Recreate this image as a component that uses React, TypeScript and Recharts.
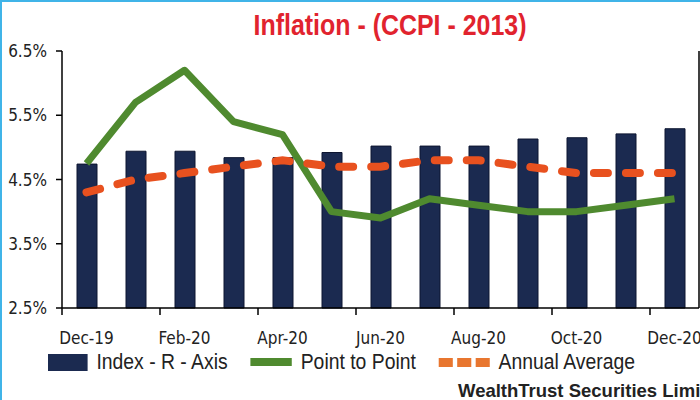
import React from 'react';
import { ComposedChart, Bar, Line, XAxis, YAxis, Legend } from 'recharts';

// values
const months = ['Dec-19', 'Jan-20', 'Feb-20', 'Mar-20', 'Apr-20', 'May-20', 'Jun-20', 'Jul-20', 'Aug-20', 'Sep-20', 'Oct-20', 'Nov-20', 'Dec-20'];
const indexValues = [132.4, 134.4, 134.4, 133.4, 133.4, 134.2, 135.2, 135.2, 135.2, 136.3, 136.5, 137.1, 137.9];
const pointToPoint = [4.75, 5.7, 6.2, 5.4, 5.2, 4.0, 3.9, 4.2, 4.1, 4.0, 4.0, 4.1, 4.2];
const annualAverage = [4.3, 4.5, 4.6, 4.7, 4.8, 4.7, 4.7, 4.8, 4.8, 4.7, 4.6, 4.6, 4.6];
const leftTicks = [2.5, 3.5, 4.5, 5.5, 6.5];
const legendOrder = ['index', 'p2p', 'avg'];

const data = months.map((m, i) => ({
  month: m,
  index: indexValues[i],
  p2p: pointToPoint[i],
  avg: annualAverage[i],
}));

const W = 700;
const H = 400;
const LEFT_AXIS_W = 62;
const RIGHT_AXIS_W = 1;
const band = (W - LEFT_AXIS_W - RIGHT_AXIS_W) / months.length;

const NAVY = '#1b2a50';
const GREEN = '#4f8a2f';
const ORANGE = '#e8511f';
const tickFont = '"DejaVu Sans Condensed", "DejaVu Sans", sans-serif';
const sansFont = '"Liberation Sans", Arial, sans-serif';
const LEGEND_SCALE = 0.88;

const MonthTick = (props: any) => {
  const { x, y, payload } = props;
  const left = x - band / 2;
  return (
    <g>
      <line x1={left} x2={left} y1={y} y2={y + 7} stroke="#000" strokeWidth={1.5} />
      <text x={x} y={y + 36} textAnchor="middle" fontFamily={tickFont} fontSize={17} fill="#222">
        {payload.value}
      </text>
    </g>
  );
};

// icons are widened by 1/LEGEND_SCALE since the whole legend is squeezed
const LegendIcon = ({ type }: { type: string }) => {
  if (type === 'index') {
    return <span style={{ display: 'inline-block', width: 45, height: 17, background: NAVY }} />;
  }
  if (type === 'p2p') {
    return <span style={{ display: 'inline-block', width: 47, height: 8, background: GREEN }} />;
  }
  return (
    <span style={{ display: 'inline-flex', gap: 5 }}>
      {[0, 1, 2].map((k) => (
        <span key={k} style={{ display: 'inline-block', width: 16, height: 9, background: '#e8762f' }} />
      ))}
    </span>
  );
};

const renderLegend = (props: any) => {
  const { payload } = props;
  const items = legendOrder.map((k) => payload.find((p: any) => p.dataKey === k)).filter(Boolean);
  return (
    <div
      style={{
        display: 'flex',
        alignItems: 'center',
        fontFamily: sansFont,
        fontSize: 22,
        color: '#222',
        transform: `scaleX(${LEGEND_SCALE})`,
        transformOrigin: 'left center',
        whiteSpace: 'nowrap',
      }}
    >
      {items.map((entry: any) => (
        <div key={entry.dataKey} style={{ display: 'flex', alignItems: 'center', marginRight: 26 }}>
          <LegendIcon type={entry.dataKey} />
          <span style={{ marginLeft: 10 }}>{entry.value}</span>
        </div>
      ))}
    </div>
  );
};

export default function App() {
  return (
    <div
      style={{
        position: 'absolute',
        left: 0,
        top: 0,
        width: W,
        height: H,
        background: '#fff',
        overflow: 'hidden',
        boxSizing: 'border-box',
        borderLeft: '2px solid #40b4e8',
        borderTop: '2px solid #40b4e8',
      }}
    >
      <div
        style={{
          position: 'absolute',
          left: -2,
          top: 7,
          width: 780,
          textAlign: 'center',
          fontFamily: sansFont,
          fontWeight: 'bold',
          fontSize: 29,
          color: '#e1232e',
          transform: 'scaleX(0.86)',
          transformOrigin: 'center',
        }}
      >
        Inflation - (CCPI - 2013)
      </div>
      <div style={{ position: 'absolute', left: -2, top: -2 }}>
        <ComposedChart width={W} height={H} data={data} margin={{ top: 51, right: 0, bottom: 52, left: 0 }} barCategoryGap={0}>
          <XAxis
            dataKey="month"
            interval={1}
            tickLine={false}
            tickSize={0}
            tickMargin={0}
            height={40}
            axisLine={{ stroke: '#000', strokeWidth: 1.5 }}
            tick={<MonthTick />}
          />
          <YAxis
            yAxisId="left"
            domain={[2.5, 6.5]}
            ticks={leftTicks}
            width={LEFT_AXIS_W}
            tickSize={6}
            tickMargin={9}
            tickFormatter={(v: number) => `${v.toFixed(1)}%`}
            axisLine={{ stroke: '#000', strokeWidth: 1.5 }}
            tickLine={{ stroke: '#000', strokeWidth: 1.5 }}
            tick={{ fontFamily: tickFont, fontSize: 17, fill: '#222' }}
          />
          <YAxis
            yAxisId="right"
            orientation="right"
            domain={[110, 150]}
            width={RIGHT_AXIS_W}
            tick={false}
            tickLine={false}
            axisLine={{ stroke: '#000', strokeWidth: 1.5 }}
          />
          <Legend
            verticalAlign="middle"
            align="center"
            layout="horizontal"
            content={renderLegend}
            wrapperStyle={{ top: 349, left: 48, width: 700 }}
          />
          <Bar yAxisId="right" dataKey="index" name="Index - R - Axis" fill={NAVY} stroke="#0d1530" strokeWidth={1} barSize={20} isAnimationActive={false} />
          <Line
            yAxisId="left"
            dataKey="p2p"
            name="Point to Point"
            type="linear"
            stroke={GREEN}
            strokeWidth={7}
            strokeLinejoin="round"
            dot={false}
            activeDot={false}
            isAnimationActive={false}
          />
          <Line
            yAxisId="left"
            dataKey="avg"
            name="Annual Average"
            type="linear"
            stroke={ORANGE}
            strokeWidth={8}
            strokeLinecap="round"
            strokeDasharray="14 18"
            dot={false}
            activeDot={false}
            isAnimationActive={false}
          />
        </ComposedChart>
      </div>
      <div
        style={{
          position: 'absolute',
          left: 456,
          top: 378,
          whiteSpace: 'nowrap',
          fontFamily: sansFont,
          fontWeight: 'bold',
          fontSize: 18.5,
          color: '#222',
        }}
      >
        WealthTrust Securities Limited
      </div>
    </div>
  );
}
